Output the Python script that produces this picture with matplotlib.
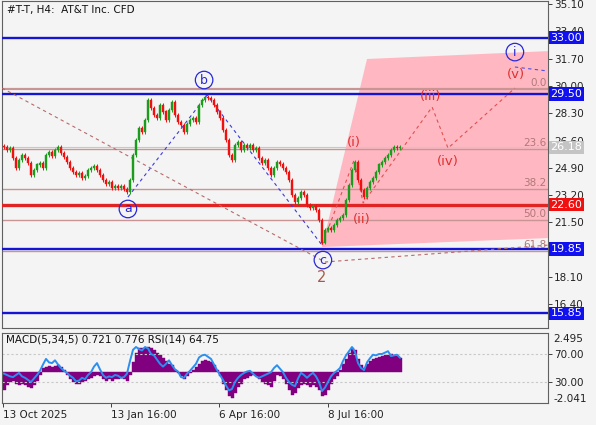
import matplotlib
matplotlib.use("Agg")
import matplotlib.pyplot as plt
import numpy as np
from matplotlib.patches import Polygon
from matplotlib.transforms import blended_transform_factory

# ---------------- data ----------------
closes = [26.20, 26.01, 26.13, 25.51, 24.89, 25.39, 25.70, 25.51, 25.20, 24.45,
          24.76, 25.08, 25.20, 24.89, 25.70, 25.88, 25.64, 26.01, 26.20, 25.82,
          25.57, 25.26, 24.89, 24.64, 24.45, 24.58, 24.27, 24.39, 24.76, 24.89,
          25.01, 24.76, 24.45, 24.14, 23.89, 24.02, 23.64, 23.77, 23.64, 23.77,
          23.58, 23.39, 24.14, 25.70, 26.63, 27.38, 27.13, 27.88, 29.12, 28.62,
          28.19, 28.00, 28.81, 28.38, 27.88, 28.50, 29.00, 28.19, 27.75, 27.57,
          27.13, 27.63, 27.88, 28.00, 27.75, 28.81, 29.12, 29.31, 29.25, 29.12,
          28.81, 28.38, 28.00, 27.25, 26.63, 25.70, 25.39, 26.32, 26.51, 26.01,
          26.32, 26.13, 26.32, 26.01, 26.13, 25.51, 25.20, 25.39, 24.89, 24.45,
          24.89, 25.26, 25.14, 24.89, 24.64, 24.14, 23.21, 22.77, 23.02, 23.39,
          23.21, 22.58, 22.40, 22.52, 22.27, 21.65, 20.25, 21.03, 21.15, 21.03,
          21.34, 21.65, 21.78, 21.96, 22.90, 23.83, 24.76, 25.26, 24.14, 23.52,
          23.08, 23.64, 24.02, 24.27, 24.64, 25.08, 25.26, 25.51, 25.70, 26.01,
          26.20, 26.13, 26.18]

macd_hist = [-1.2, -0.9, -0.7, -0.6, -0.8, -0.9, -0.8, -0.9, -1.0, -1.1,
             -0.9, -0.6, -0.2, 0.2, 0.3, 0.35, 0.3, 0.35, 0.4, 0.3,
             0.1, -0.2, -0.5, -0.7, -0.8, -0.8, -0.7, -0.6, -0.5, -0.4,
             -0.3, -0.2, -0.3, -0.5, -0.6, -0.5, -0.6, -0.5, -0.5, -0.4,
             -0.5, -0.6, -0.2, 0.6, 1.2, 1.5, 1.55, 1.5, 1.6, 1.55,
             1.4, 1.2, 1.1, 0.9, 0.7, 0.5, 0.4, 0.1, -0.1, -0.3,
             -0.5, -0.3, -0.1, 0.1, 0.3, 0.5, 0.7, 0.75, 0.7, 0.6,
             0.4, 0.1, -0.3, -0.8, -1.2, -1.6, -1.7, -1.4, -1.0, -0.8,
             -0.5, -0.4, -0.3, -0.2, -0.3, -0.5, -0.7, -0.8, -0.9, -1.0,
             -0.6, -0.2, -0.3, -0.5, -0.8, -1.2, -1.5, -1.4, -1.1, -0.9,
             -0.8, -0.9, -1.0, -0.9, -1.0, -1.2, -1.6, -1.5, -1.2, -0.8,
             -0.5, -0.3, 0.1, 0.5, 0.8, 1.2, 1.55, 1.4, 0.8, 0.4,
             0.2, 0.5, 0.7, 0.8, 0.9, 0.95, 1.0, 1.05, 1.1, 1.15,
             1.1, 1.0, 0.9]

rsi = [42, 40, 38, 37, 40, 43, 38, 36, 33, 30,
       35, 40, 46, 55, 63, 58, 57, 61, 55, 50,
       46, 43, 39, 36, 31, 32, 36, 34, 40, 44,
       52, 57, 48, 40, 36, 38, 37, 40, 39, 36,
       37, 42, 60, 76, 80, 77, 75, 80, 78, 70,
       68, 62, 56, 52, 56, 61, 54, 48, 45, 37,
       36, 42, 46, 51, 56, 65, 68, 69, 66, 63,
       55, 47, 40, 33, 25, 18, 20, 30, 36, 40,
       43, 45, 46, 42, 38, 36, 38, 40, 42, 44,
       50, 54, 49, 44, 36, 30, 26, 24, 35, 43,
       40, 36, 40, 43, 38, 30, 17, 22, 30, 38,
       43, 46, 50, 60, 68, 74, 80, 73, 57, 50,
       47, 58, 64, 69, 68, 70, 70, 72, 74, 67,
       68, 69, 64.75]

blue_levels = [33.00, 29.50, 19.85, 15.85]
red_level = 22.60
last_price = 26.18
fib_names = ["0.0", "23.6", "38.2", "50.0", "61.8"]
fib_levels = [29.81, 26.05, 23.57, 21.65, 19.72]

abc_x = [41.3, 67.7, 106.0]
abc_y = [23.08, 29.43, 20.09]
big_x = [-0.67, 107.0, 181.3]
big_y = [29.87, 19.04, 20.09]
sub_x = [106.0, 116.7, 119.7, 142.7, 148.0, 170.3]
sub_y = [20.09, 25.39, 22.71, 28.69, 26.13, 29.87]
ext_x = [170.3, 181.3]
ext_y = [31.18, 30.93]
zone_x = [106.0, 121.0, 181.3, 181.3]
zone_y = [19.97, 31.68, 32.17, 20.53]

yticks_main = [35.10, 33.40, 31.70, 30.00, 28.30, 26.60, 24.90, 23.20, 21.50, 18.10, 16.40]
xtick_pos = [-0.33, 35.67, 71.67, 108.0]
xtick_labels = ["13 Oct 2025", "13 Jan 16:00", "6 Apr 16:00", "8 Jul 16:00"]

# ---------------- figure ----------------
BG = "#f4f4f4"
W, H = 596, 425
fig = plt.figure(figsize=(W / 100, H / 100), dpi=100, facecolor=BG)
ax = fig.add_axes([2 / W, 1 - 328 / H, 546 / W, 327 / H], facecolor=BG)
ax2 = fig.add_axes([2 / W, 1 - 403 / H, 546 / W, 70 / H], facecolor=BG)

XMIN, XMAX = -0.667, 181.33
ax.set_xlim(XMIN, XMAX)
ax.set_ylim(14.93, 35.29)
ax2.set_xlim(XMIN, XMAX)

n = len(closes)
idx = np.arange(n)
c = np.array(closes)
o = np.concatenate([[c[0] + 0.05], c[:-1]])
up = c >= o
cols = np.where(up, "#1c9c1c", "#f01010")
hi = np.maximum(o, c) + 0.12
lo = np.minimum(o, c) - 0.12

# pink zone
ax.add_patch(Polygon(np.column_stack([zone_x, zone_y]), closed=True,
                     facecolor="#ffb8c2", edgecolor="none", zorder=1))

# fib lines
tr = blended_transform_factory(ax.transAxes, ax.transData)
for name, lv in zip(fib_names, fib_levels):
    ax.axhline(lv, color="#c89494", lw=1.0 if name != "0.0" else 1.6, zorder=2)
    ax.text(0.997, lv + 0.08, name, transform=tr, ha="right", va="bottom",
            fontsize=7.5, color="#b07878", zorder=6)

# horizontal levels
for lv in blue_levels:
    ax.axhline(lv, color="#1414d2", lw=1.7, zorder=3)
ax.axhline(red_level, color="#e02424", lw=2.4, zorder=3)
ax.axhline(last_price, color="#c8c8c8", lw=0.8, zorder=2)

# wave lines
ax.plot(big_x, big_y, ls=(0, (3, 3)), color="#b86a6a", lw=0.8, zorder=4)
ax.plot(abc_x, abc_y, ls=(0, (3, 3)), color="#3a3ae0", lw=0.8, zorder=4)
ax.plot(sub_x, sub_y, ls=(0, (3, 3)), color="#e05050", lw=0.8, zorder=4)
ax.plot(ext_x, ext_y, ls=(0, (3, 3)), color="#5050e0", lw=0.8, zorder=4)

# candles
ax.vlines(idx, lo, hi, colors=cols, lw=0.7, zorder=5)
ax.bar(idx, np.abs(c - o) + 0.03, bottom=np.minimum(o, c), width=0.65,
       color=cols, edgecolor=cols, lw=0.3, zorder=5)

# wave labels
def circ(x, y, s):
    ax.text(x, y, s, ha="center", va="center", fontsize=9, color="#2828d8", zorder=7,
            bbox=dict(boxstyle="circle,pad=0.18", fc="none", ec="#2828d8", lw=0.9))

circ(41.3, 22.34, "a")
circ(66.7, 30.37, "b")
circ(106.3, 19.16, "c")
circ(170.3, 32.11, "i")
ax.text(106.0, 18.1, "2", ha="center", va="center", fontsize=10.5, color="#a85a4a", zorder=7)
for x, y, s in [(116.7, 26.45, "(i)"), (119.3, 21.71, "(ii)"), (142.3, 29.37, "(iii)"),
                (148.0, 25.32, "(iv)"), (170.7, 30.74, "(v)")]:
    ax.text(x, y, s, ha="center", va="center", fontsize=9.5, color="#e03030", zorder=7)

ax.text(5 / 546, 1 - 9 / 327, "#T-T, H4:  AT&T Inc. CFD", transform=ax.transAxes,
        ha="left", va="center", fontsize=7.5, color="#111111")

# ---------------- indicator panel ----------------
ax2.set_ylim(0, 100)
axm = ax2.twinx()
axm.set_ylim(-2.041, 2.495)
axm.set_xlim(XMIN, XMAX)
axm.bar(idx, macd_hist, width=1.0, color="#800080", edgecolor="#800080", lw=0.3, zorder=2)
axm.set_yticks([])
for s in axm.spines.values():
    s.set_visible(False)
ax2.set_zorder(axm.get_zorder() + 1)
ax2.patch.set_visible(False)
axm.patch.set_visible(True)
axm.patch.set_facecolor(BG)
ax2.plot(idx, rsi, color="#2a8ff0", lw=1.4, zorder=4)
for lv in (70, 30):
    ax2.axhline(lv, color="#c8c8c8", lw=0.8, ls=(0, (2, 2)), zorder=1)

# axes styling
for a in (ax, ax2):
    for s in a.spines.values():
        s.set_color("#606060")
        s.set_linewidth(0.8)
    a.yaxis.tick_right()
    a.yaxis.set_label_position("right")
    a.tick_params(axis="y", which="both", left=False, labelleft=False, right=True,
                  labelright=True, direction="out", length=3, pad=1.5, labelsize=7.5,
                  colors="#222222", width=0.6)
ax.set_yticks(yticks_main)
ax.set_yticklabels([f"{v:.2f}" for v in yticks_main])
ax.set_xticks([])
ax2.set_yticks([70, 30])
ax2.set_yticklabels(["70.00", "30.00"])

# right value boxes
trb = blended_transform_factory(ax.transAxes, ax.transData)
def box(v, fc, tc="white"):
    ax.text(1.0045, v, f"{v:.2f}", transform=trb, ha="left", va="center", fontsize=8,
            color=tc, zorder=8, clip_on=False,
            bbox=dict(boxstyle="square,pad=0.15", fc=fc, ec="none"))
for lv in blue_levels:
    box(lv, "#1010f0")
box(red_level, "#f01010")
box(last_price, "#c4c4c4")

ax2.text(1.01, 0.92, "2.495", transform=ax2.transAxes, ha="left", va="center",
         fontsize=7.5, color="#222222")
ax2.text(1.01, 0.06, "-2.041", transform=ax2.transAxes, ha="left", va="center",
         fontsize=7.5, color="#222222")
ax2.text(4 / 546, 0.9, "MACD(5,34,5) 0.721 0.776 RSI(14) 64.75", transform=ax2.transAxes,
         ha="left", va="center", fontsize=7.5, color="#111111", zorder=6)

ax2.set_xticks(xtick_pos)
ax2.set_xticklabels(xtick_labels, ha="left")
ax2.tick_params(axis="x", direction="out", length=3, pad=2, labelsize=7.5,
                colors="#222222", width=0.6)

fig.savefig("out.png", dpi=100, facecolor=BG)
